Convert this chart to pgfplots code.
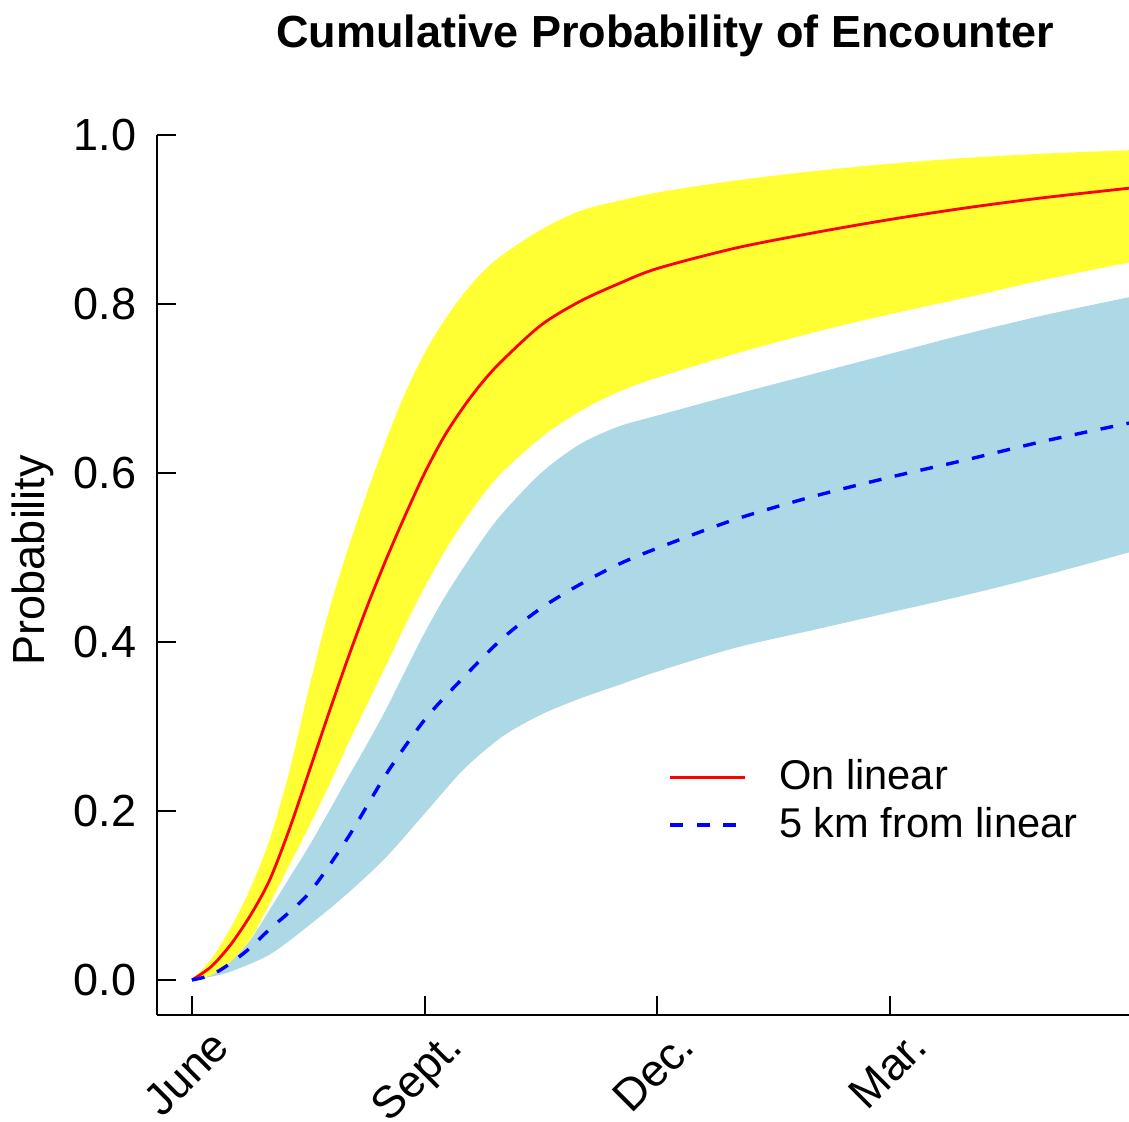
\documentclass[border=0pt]{standalone}
\usepackage{fontspec}
\setmainfont{Liberation Sans}
\usepackage{pgfplots}
\pgfplotsset{compat=1.18}
\usepackage{pgfplotstable}
\usepgfplotslibrary{fillbetween}
\newcommand\fs{\fontsize{11.25}{13.5}\selectfont}
\newcommand\fsl{\fontsize{10.4}{12.5}\selectfont}
\definecolor{bandyellow}{RGB}{255,255,51}
\definecolor{bandblue}{RGB}{173,216,230}

\pgfplotstableread{
x y
0 0
0.25 0.016
0.5 0.042
0.75 0.076
1.0 0.118
1.25 0.177
1.5 0.244
1.75 0.312
2.0 0.378
2.25 0.440
2.5 0.497
2.75 0.550
3.0 0.600
3.25 0.643
3.5 0.678
3.75 0.708
4.0 0.733
4.5 0.775
5.0 0.803
5.5 0.824
6.0 0.842
7.0 0.866
8.0 0.884
9.0 0.900
10.0 0.914
11.0 0.926
12.08 0.937
}\redmean

\pgfplotstableread{
x y
0 0
0.25 0.025
0.5 0.062
0.75 0.108
1.0 0.166
1.25 0.245
1.5 0.342
1.75 0.432
2.0 0.507
2.25 0.575
2.5 0.638
2.75 0.695
3.0 0.742
3.25 0.78
3.5 0.812
3.75 0.838
4.0 0.858
4.5 0.888
5.0 0.910
5.5 0.922
6.0 0.932
7.0 0.946
8.0 0.957
9.0 0.966
10.0 0.973
11.0 0.978
12.08 0.982
}\redup

\pgfplotstableread{
x y
0 0
0.25 0.006
0.5 0.022
0.75 0.048
1.0 0.09
1.25 0.135
1.5 0.18
1.75 0.227
2.0 0.277
2.25 0.325
2.5 0.372
2.75 0.42
3.0 0.465
3.25 0.506
3.5 0.542
3.75 0.574
4.0 0.601
4.5 0.642
5.0 0.673
5.5 0.696
6.0 0.713
7.0 0.741
8.0 0.766
9.0 0.788
10.0 0.808
11.0 0.829
12.08 0.849
}\redlo

\pgfplotstableread{
x y
0 0
0.25 0.006
0.5 0.02
0.75 0.038
1.0 0.06
1.5 0.102
2.0 0.167
2.5 0.243
3.0 0.308
3.5 0.358
4.0 0.404
4.5 0.440
5.0 0.468
5.5 0.492
6.0 0.511
7.0 0.545
8.0 0.572
9.0 0.595
10.0 0.616
11.0 0.638
12.08 0.659
}\bluemean

\pgfplotstableread{
x y
0 0
0.25 0.006
0.5 0.022
0.75 0.047
1.0 0.083
1.25 0.12
1.5 0.157
1.75 0.197
2.0 0.238
2.25 0.278
2.5 0.32
2.75 0.366
3.0 0.411
3.25 0.452
3.5 0.488
3.75 0.522
4.0 0.552
4.5 0.600
5.0 0.634
5.5 0.655
6.0 0.668
7.0 0.693
8.0 0.717
9.0 0.741
10.0 0.765
11.0 0.787
12.08 0.808
}\blueup

\pgfplotstableread{
x y
0 0
0.25 0.004
0.5 0.01
1.0 0.03
1.5 0.064
2.0 0.102
2.5 0.145
3.0 0.197
3.5 0.249
4.0 0.288
4.5 0.314
5.0 0.333
5.5 0.349
6.0 0.365
7.0 0.393
8.0 0.414
9.0 0.435
10.0 0.456
11.0 0.479
12.08 0.506
}\bluelo

\begin{document}
\begin{tikzpicture}
\begin{axis}[
  at={(0pt,0pt)}, anchor=south west,
  scale only axis, width=243pt, height=220pt,
  xmin=-0.451, xmax=12.08,
  ymin=-0.0414, ymax=1.0,
  axis x line*=bottom, axis y line*=left,
  axis line style={line width=0.45pt, black},
  tick align=inside, major tick length=4.75pt,
  tick style={line width=0.45pt, black},
  xtick={0,3,6,9}, xticklabels={June,Sept.,Dec.,Mar.},
  ytick={0,0.2,0.4,0.6,0.8,1.0}, yticklabels={0.0,0.2,0.4,0.6,0.8,1.0},
  xticklabel style={font=\fs, inner sep=0pt, anchor=base east, xshift=10pt, yshift=-8.5pt, rotate=45},
  yticklabel style={font=\fs, inner sep=0pt, anchor=east, xshift=-5pt},
  title={Cumulative Probability of Encounter},
  title style={font=\fs\bfseries, at={(axis description cs:0.5226,1.0716)}, anchor=base, inner sep=0pt},
  ylabel={Probability},
  ylabel style={font=\fs, at={(axis description cs:-0.1276,0.517)}, anchor=center, inner sep=0pt},
  legend style={font=\fsl, draw=none, fill=none, inner sep=0pt, at={(axis description cs:0.5257,0.2427)}, anchor=west, row sep=2.8pt, nodes={inner sep=0pt}},
  legend cell align=left,
  legend image code/.code={\draw[#1] (0pt,0pt) -- (18.75pt,0pt); \path (26.75pt,0pt);},
]
\addplot[name path=BU, draw=none, smooth, forget plot] table {\blueup};
\addplot[name path=BL, draw=none, smooth, forget plot] table {\bluelo};
\addplot[bandblue, draw=none, forget plot] fill between[of=BU and BL];
\addplot[name path=RU, draw=none, smooth, forget plot] table {\redup};
\addplot[name path=RL, draw=none, smooth, forget plot] table {\redlo};
\addplot[bandyellow, draw=none, forget plot] fill between[of=RU and RL];
\addplot[red, line width=0.7pt, smooth] table {\redmean};
\addlegendentry{On linear}
\addplot[blue, line width=0.85pt, smooth, dash pattern=on 3.2pt off 3.4pt] table {\bluemean};
\addlegendentry{5 km from linear}
\end{axis}
\pgfresetboundingbox
\path[use as bounding box] (-39.25pt,-26.75pt) rectangle (243pt,253.75pt);
\end{tikzpicture}
\end{document}
